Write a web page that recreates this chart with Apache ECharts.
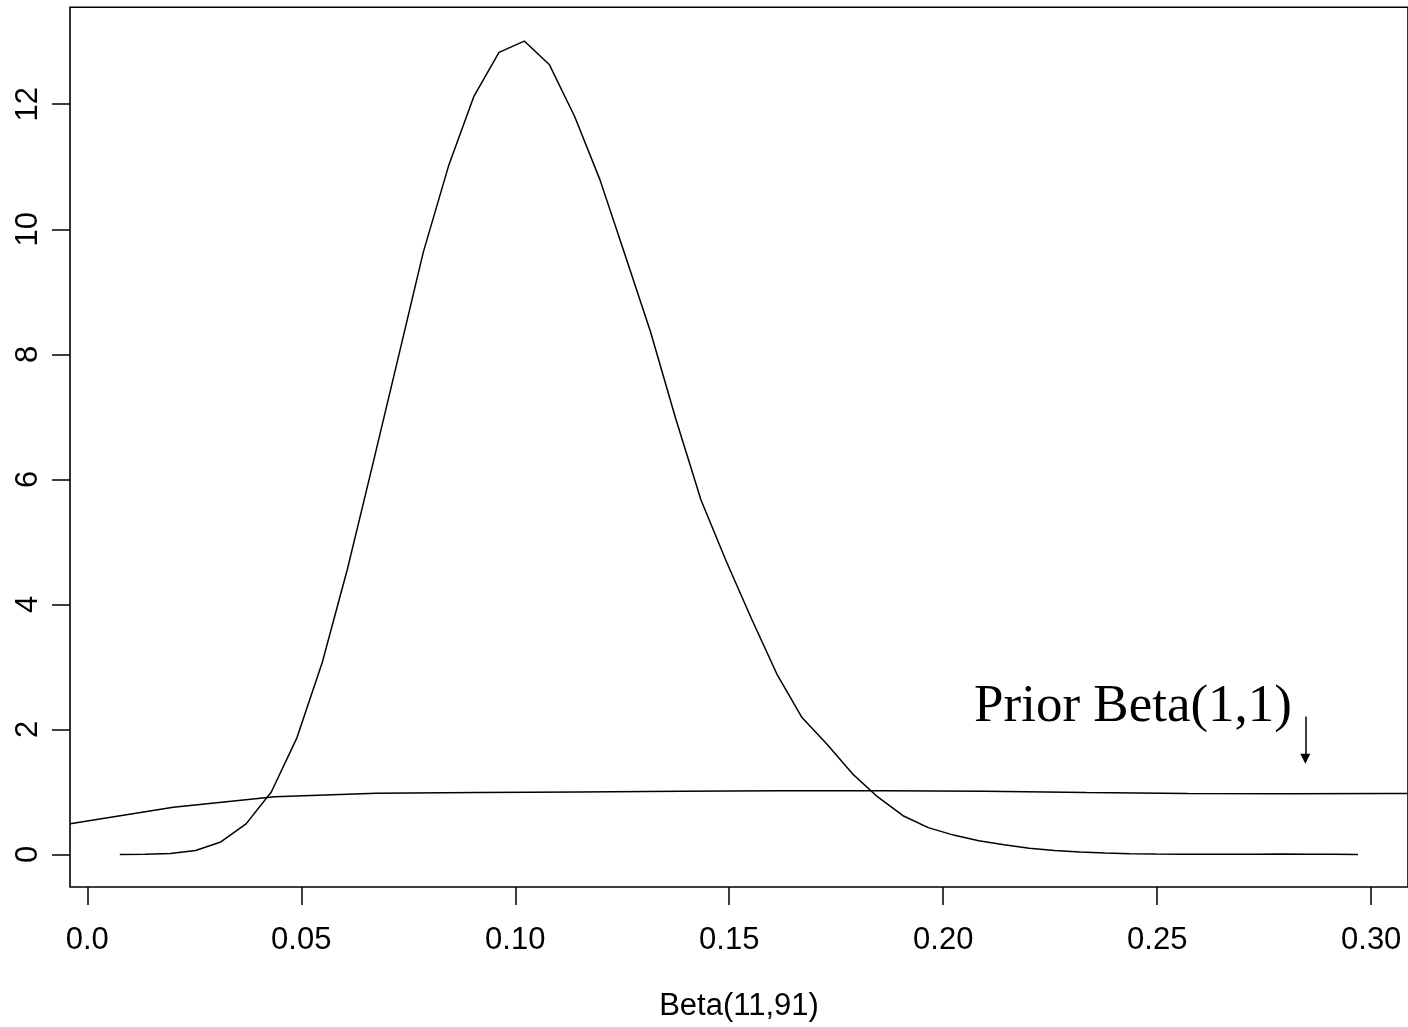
<!DOCTYPE html>
<html>
<head>
<meta charset="utf-8">
<title>Beta(11,91)</title>
<script src="https://cdn.jsdelivr.net/npm/echarts@6/dist/echarts.min.js"></script>
<style>
  html, body { margin: 0; padding: 0; background: #fff; }
  #chart { width: 1408px; height: 1027px; }
</style>
</head>
<body>
<div id="chart"></div>
<script>
// Posterior density estimate for Beta(11,91): grid points and heights
const postX = [
  0.0076, 0.0135, 0.0194, 0.0253, 0.0312, 0.0371, 0.0430, 0.0490, 0.0549, 0.0608,
  0.0667, 0.0726, 0.0785, 0.0844, 0.0903, 0.0962, 0.1021, 0.1080, 0.1139, 0.1198,
  0.1257, 0.1316, 0.1375, 0.1434, 0.1493, 0.1552, 0.1611, 0.1670, 0.1729, 0.1788,
  0.1847, 0.1906, 0.1965, 0.2024, 0.2083, 0.2142, 0.2201, 0.2260, 0.2319, 0.2378,
  0.2437, 0.2496, 0.2555, 0.2614, 0.2673, 0.2732, 0.2791, 0.2850, 0.2909, 0.2969
];
const postY = [
  0.000, 0.003, 0.016, 0.064, 0.20, 0.49, 1.00, 1.87, 3.07, 4.57,
  6.24, 7.93, 9.63, 11.01, 12.12, 12.83, 13.01, 12.63, 11.80, 10.79,
  9.58, 8.36, 6.97, 5.67, 4.69, 3.77, 2.89, 2.19, 1.76, 1.29,
  0.92, 0.62, 0.43, 0.31, 0.22, 0.155, 0.10, 0.062, 0.038, 0.022,
  0.011, 0.006, 0.003, 0.002, 0.003, 0.005, 0.006, 0.004, 0.002, 0.001
];

// Prior Beta(1,1) density estimate (flat, dipping near the boundary)
const priorX = [
  -0.0040, 0.0201, 0.0438, 0.0675, 0.0912, 0.1149, 0.1386, 0.1623,
  0.1860, 0.2097, 0.2334, 0.2571, 0.2808, 0.3045, 0.3282
];
const priorY = [
  0.49, 0.755, 0.925, 0.98, 0.99, 1.00, 1.01, 1.02,
  1.02, 1.01, 0.99, 0.975, 0.97, 0.975, 0.98
];

// Axis ticks
const xTicks = [0, 0.05, 0.10, 0.15, 0.20, 0.25, 0.30];
const xTickLabels = ['0.0', '0.05', '0.10', '0.15', '0.20', '0.25', '0.30'];
const yTicks = [0, 2, 4, 6, 8, 10, 12];

// Annotation
const priorLabel = 'Prior Beta(1,1)';
const priorLabelAt = [0.2072, 2.35];
const arrowFrom = [0.2846, 2.205];
const arrowTo = [0.2846, 1.53];

const xAxisName = 'Beta(11,91)';

const zip = (xs, ys) => xs.map((x, i) => [x, ys[i]]);

const chart = echarts.init(document.getElementById('chart'), null, { renderer: 'canvas' });

const sans = 'Liberation Sans, Arial, sans-serif';

chart.setOption({
  animation: false,
  backgroundColor: '#ffffff',
  textStyle: { fontFamily: sans },
  grid: {
    left: 70,
    top: 7.3,
    width: 1339,
    height: 883,
    show: true,
    borderColor: '#000',
    borderWidth: 1.6,
    backgroundColor: 'transparent'
  },
  xAxis: {
    type: 'value',
    min: -0.00404,
    max: 0.3086,
    axisLine: { show: false, onZero: false },
    splitLine: { show: false },
    axisTick: {
      show: true,
      inside: false,
      length: 18,
      customValues: xTicks,
      lineStyle: { color: '#000', width: 1.5 }
    },
    axisLabel: {
      show: true,
      customValues: xTicks,
      margin: 38,
      fontSize: 31,
      color: '#000',
      fontFamily: sans,
      formatter: (v) => {
        const i = xTicks.findIndex(t => Math.abs(t - v) < 1e-9);
        return i >= 0 ? xTickLabels[i] : '';
      }
    },
    name: xAxisName,
    nameLocation: 'middle',
    nameGap: 104,
    nameTextStyle: { fontSize: 31, color: '#000', fontFamily: sans }
  },
  yAxis: {
    type: 'value',
    min: -0.52,
    max: 13.55,
    axisLine: { show: false, onZero: false },
    splitLine: { show: false },
    axisTick: {
      show: true,
      inside: false,
      length: 18,
      customValues: yTicks,
      lineStyle: { color: '#000', width: 1.5 }
    },
    axisLabel: {
      show: true,
      customValues: yTicks,
      rotate: 90,
      margin: 26,
      fontSize: 31,
      color: '#000',
      fontFamily: sans,
      formatter: (v) => String(v)
    }
  },
  series: [
    {
      name: 'posterior',
      type: 'line',
      data: zip(postX, postY),
      showSymbol: false,
      symbol: 'none',
      smooth: false,
      clip: true,
      lineStyle: { color: '#000', width: 1.5 },
      silent: true
    },
    {
      name: 'prior',
      type: 'line',
      data: zip(priorX, priorY),
      showSymbol: false,
      symbol: 'none',
      smooth: false,
      clip: true,
      lineStyle: { color: '#000', width: 1.5 },
      silent: true,
      markPoint: {
        silent: true,
        symbol: 'circle',
        symbolSize: 0,
        data: [{
          coord: priorLabelAt,
          label: {
            show: true,
            position: 'inside',
            align: 'left',
            verticalAlign: 'middle',
            formatter: priorLabel,
            fontFamily: 'Liberation Serif, Times New Roman, serif',
            fontSize: 53,
            color: '#000'
          }
        }]
      },
      markLine: {
        silent: true,
        symbol: ['none', 'triangle'],
        symbolSize: [10, 10],
        label: { show: false },
        lineStyle: { color: '#000', width: 1.5, type: 'solid' },
        itemStyle: { color: '#000' },
        data: [[
          { coord: arrowFrom },
          { coord: arrowTo }
        ]]
      }
    }
  ]
});
</script>
</body>
</html>
